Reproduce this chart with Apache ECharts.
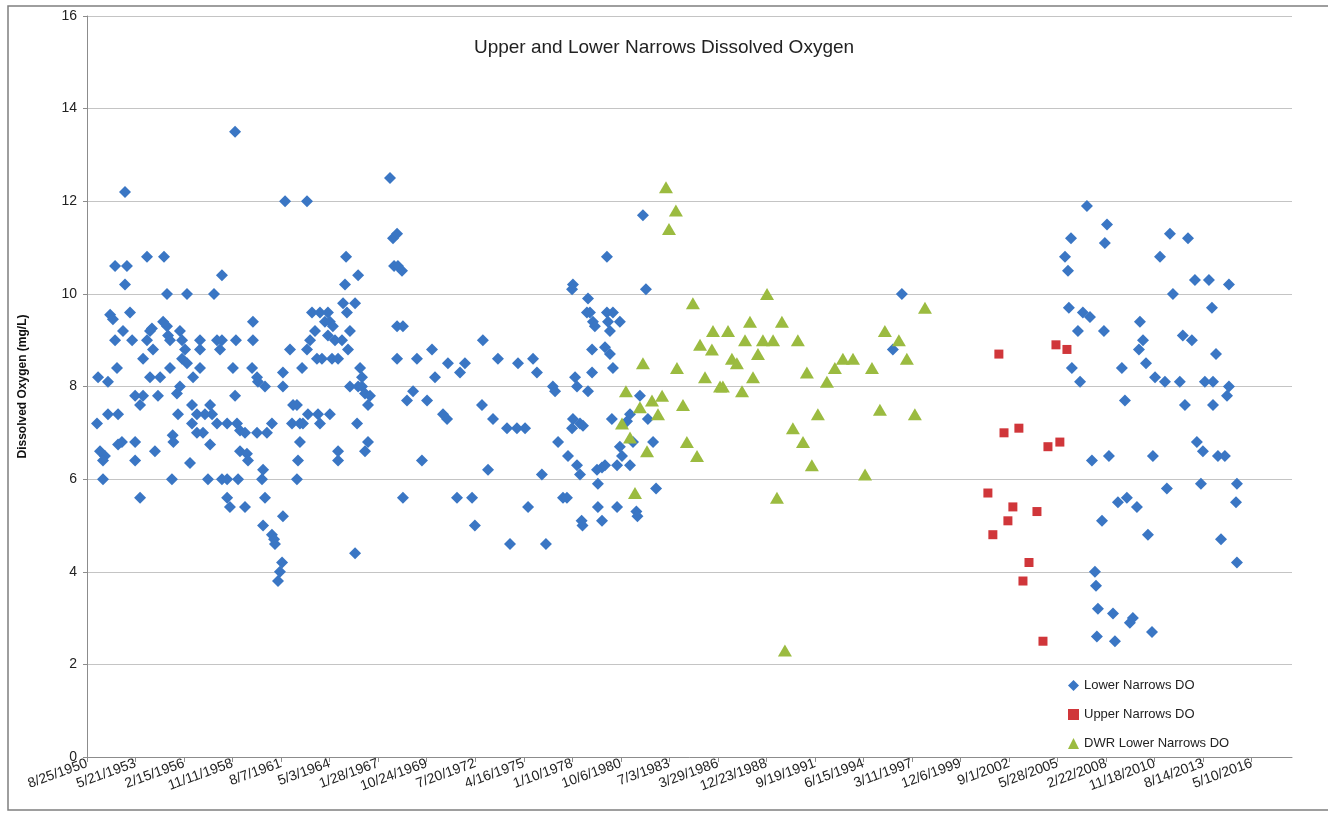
<!DOCTYPE html>
<html style="height: 100%">

<head>
    <meta charset="utf-8">
    <script src="https://cdn.jsdelivr.net/npm/echarts@6/dist/echarts.min.js"></script>
</head>

<body style="height: 100%; margin: 0; background: #fff">
    <div id="main" style="width: 1328px;height:814px;"></div>
    <script type="text/javascript">
        // points are [decimal year, dissolved oxygen mg/L]
        var lowerNarrows = [
            [1952.23, 10.6], [1952.79, 12.2], [1952.90, 10.6], [1952.79, 10.2], [1954.03, 10.8], [1954.99, 10.8],
            [1955.16, 10.0], [1956.29, 10.0], [1957.81, 10.0], [1958.26, 10.4], [1959.00, 13.5], [1961.82, 12.0],
            [1963.06, 12.0], [1965.20, 10.2], [1965.26, 10.8], [1965.94, 10.4], [1967.74, 12.5], [1967.91, 11.2],
            [1968.14, 11.3], [1967.97, 10.6], [1968.19, 10.6], [1968.42, 10.5],
            [1965.09, 9.8], [1965.77, 9.8], [1951.95, 9.55], [1952.11, 9.45], [1953.07, 9.6], [1952.68, 9.2],
            [1952.23, 9.0], [1953.19, 9.0], [1952.34, 8.4], [1951.27, 8.2], [1951.83, 8.1], [1951.21, 7.2],
            [1951.83, 7.4], [1952.40, 7.4], [1951.38, 6.6], [1951.66, 6.5], [1951.55, 6.4], [1951.55, 6.0],
            [1952.40, 6.75], [1952.62, 6.8], [1953.36, 7.8], [1953.81, 7.8], [1953.64, 7.6], [1953.36, 6.8],
            [1953.36, 6.4], [1953.64, 5.6], [1953.81, 8.6], [1954.03, 9.0], [1954.20, 9.2], [1954.31, 9.25],
            [1954.37, 8.8], [1954.20, 8.2], [1954.77, 8.2], [1954.65, 7.8], [1954.48, 6.6], [1954.94, 9.4],
            [1955.16, 9.3], [1955.22, 9.1], [1955.33, 9.0], [1955.33, 8.4], [1955.48, 6.95], [1955.52, 6.8],
            [1955.44, 6.0], [1955.72, 7.85], [1955.89, 8.0], [1955.78, 7.4], [1955.89, 9.2], [1956.01, 9.0],
            [1956.18, 8.8], [1956.01, 8.6], [1956.29, 8.5], [1956.46, 6.35], [1956.63, 8.2], [1956.57, 7.6],
            [1956.85, 7.4], [1956.57, 7.2], [1956.85, 7.0], [1957.19, 7.0], [1957.02, 9.0], [1957.02, 8.8],
            [1957.02, 8.4], [1957.59, 7.6], [1957.70, 7.4], [1957.30, 7.4], [1957.98, 7.2], [1957.59, 6.75],
            [1957.47, 6.0], [1958.26, 6.0], [1958.55, 6.0], [1959.17, 6.0], [1957.98, 9.0], [1958.26, 9.0],
            [1958.15, 8.8], [1958.88, 8.4], [1959.00, 7.8], [1958.55, 7.2], [1959.11, 7.2], [1959.28, 7.05],
            [1958.55, 5.6], [1958.71, 5.4], [1959.56, 5.4], [1959.28, 6.6], [1959.67, 6.55], [1959.73, 6.4],
            [1959.05, 9.0], [1960.01, 9.0], [1960.01, 9.4], [1959.96, 8.4], [1960.24, 8.2], [1960.29, 8.1],
            [1959.56, 7.0], [1960.24, 7.0], [1960.80, 7.0], [1961.08, 7.2], [1960.58, 6.2], [1960.52, 6.0],
            [1960.69, 5.6], [1960.69, 8.0], [1960.58, 5.0], [1961.70, 8.0], [1961.70, 8.3], [1961.70, 5.2],
            [1962.10, 8.8], [1962.27, 7.6], [1962.49, 7.6], [1962.21, 7.2], [1962.66, 7.2], [1962.83, 7.2],
            [1962.66, 6.8], [1962.55, 6.4], [1962.49, 6.0], [1962.78, 8.4], [1963.06, 8.8], [1963.23, 9.0],
            [1963.51, 9.2], [1963.34, 9.6], [1963.79, 9.6], [1964.24, 9.6], [1963.62, 8.6], [1963.90, 8.6],
            [1964.47, 8.6], [1964.81, 8.6], [1963.11, 7.4], [1963.68, 7.4], [1964.35, 7.4], [1963.79, 7.2],
            [1964.07, 9.4], [1964.35, 9.4], [1964.52, 9.3], [1964.24, 9.1], [1964.64, 9.0], [1964.81, 6.6],
            [1964.81, 6.4], [1965.03, 9.0], [1965.37, 8.8], [1965.31, 9.6], [1965.48, 9.2], [1965.48, 8.0],
            [1965.94, 8.0], [1965.88, 7.2], [1966.05, 8.4], [1966.16, 8.2], [1966.16, 8.0], [1966.33, 7.85],
            [1966.61, 7.8], [1966.50, 7.6], [1966.33, 6.6], [1966.50, 6.8], [1968.14, 9.3], [1968.47, 9.3],
            [1968.14, 8.6], [1968.47, 5.6], [1969.04, 7.9], [1968.70, 7.7], [1969.26, 8.6], [1969.54, 6.4],
            [1969.83, 7.7], [1970.11, 8.8], [1970.28, 8.2], [1970.73, 7.4], [1970.96, 7.3], [1971.01, 8.5],
            [1961.08, 4.8], [1961.25, 4.6], [1961.20, 4.7], [1961.65, 4.2], [1961.53, 4.0], [1961.42, 3.8],
            [1965.77, 4.4],
            [1982.01, 11.7], [1979.98, 10.8], [1982.18, 10.1], [1978.06, 10.2], [1978.01, 10.1], [1978.91, 9.9],
            [1979.02, 9.6], [1978.85, 9.6], [1979.19, 9.4], [1979.30, 9.3], [1979.98, 9.6], [1980.32, 9.6],
            [1980.04, 9.4], [1980.71, 9.4], [1980.15, 9.2], [1972.98, 9.0], [1971.69, 8.3], [1971.97, 8.5],
            [1973.83, 8.6], [1974.96, 8.5], [1975.81, 8.6], [1976.03, 8.3], [1979.14, 8.8], [1979.87, 8.85],
            [1980.15, 8.7], [1980.32, 8.4], [1979.14, 8.3], [1978.18, 8.2], [1978.29, 8.0], [1978.91, 7.9],
            [1976.93, 8.0], [1977.05, 7.9], [1981.84, 7.8],
            [1972.93, 7.6], [1973.55, 7.3], [1974.34, 7.1], [1974.90, 7.1], [1975.36, 7.1], [1978.06, 7.3],
            [1978.46, 7.2], [1978.01, 7.1], [1978.63, 7.15], [1980.26, 7.3], [1981.28, 7.4], [1981.11, 7.25],
            [1982.29, 7.3], [1977.22, 6.8], [1977.78, 6.5], [1978.29, 6.3], [1978.46, 6.1], [1979.42, 6.2],
            [1979.70, 6.25], [1979.87, 6.3], [1979.47, 5.9], [1980.55, 6.3], [1980.83, 6.5], [1980.71, 6.7],
            [1981.28, 6.3], [1981.45, 6.8], [1982.58, 6.8], [1973.27, 6.2], [1976.31, 6.1], [1971.52, 5.6],
            [1972.37, 5.6], [1975.53, 5.4], [1977.50, 5.6], [1977.72, 5.6], [1979.47, 5.4], [1980.55, 5.4],
            [1981.64, 5.3], [1981.70, 5.2], [1982.75, 5.8], [1972.53, 5.0], [1978.55, 5.1], [1978.60, 5.0],
            [1979.70, 5.1], [1974.51, 4.6], [1976.54, 4.6],
            [1996.11, 8.8], [1996.62, 10.0],
            [2007.06, 11.9], [2008.19, 11.5], [2006.16, 11.2], [2008.07, 11.1], [2011.74, 11.3], [2012.76, 11.2],
            [2005.82, 10.8], [2011.18, 10.8], [2005.99, 10.5], [2013.15, 10.3], [2013.94, 10.3], [2015.07, 10.2],
            [2011.91, 10.0], [2014.11, 9.7], [2006.04, 9.7], [2006.83, 9.6], [2007.23, 9.5], [2010.05, 9.4],
            [2006.55, 9.2], [2008.02, 9.2], [2012.47, 9.1], [2012.98, 9.0], [2010.22, 9.0], [2009.99, 8.8],
            [2014.34, 8.7], [2006.21, 8.4], [2009.03, 8.4], [2010.39, 8.5], [2006.67, 8.1], [2010.90, 8.2],
            [2011.46, 8.1], [2012.30, 8.1], [2013.71, 8.1], [2014.17, 8.1], [2015.07, 8.0], [2014.96, 7.8],
            [2009.20, 7.7], [2012.59, 7.6], [2014.17, 7.6], [2013.26, 6.8], [2013.60, 6.6], [2014.45, 6.5],
            [2014.84, 6.5], [2007.34, 6.4], [2008.30, 6.5], [2010.78, 6.5], [2011.57, 5.8], [2013.49, 5.9],
            [2015.52, 5.9], [2015.47, 5.5], [2008.81, 5.5], [2009.31, 5.6], [2009.88, 5.4],
            [2007.91, 5.1], [2010.50, 4.8], [2014.62, 4.7], [2015.52, 4.2], [2007.51, 4.0], [2007.57, 3.7],
            [2007.68, 3.2], [2008.53, 3.1], [2009.48, 2.9], [2009.65, 3.0], [2010.73, 2.7], [2007.62, 2.6],
            [2008.64, 2.5]
        ];

        var upperNarrows = [
            [2001.47, 5.7], [2001.75, 4.8], [2002.09, 8.7], [2002.38, 7.0], [2002.60, 5.1], [2002.88, 5.4],
            [2003.22, 7.1], [2003.45, 3.8], [2003.79, 4.2], [2004.24, 5.3], [2004.58, 2.5], [2004.86, 6.7],
            [2005.31, 8.9], [2005.53, 6.8], [2005.93, 8.8]
        ];

        var dwrLowerNarrows = [
            [1983.31, 12.3], [1983.87, 11.8], [1983.48, 11.4], [1984.83, 9.8], [1989.01, 10.0], [1988.05, 9.4],
            [1989.85, 9.4], [1985.96, 9.2], [1986.81, 9.2], [1985.23, 8.9], [1985.90, 8.8], [1987.77, 9.0],
            [1988.78, 9.0], [1989.35, 9.0], [1990.75, 9.0], [1995.66, 9.2], [1987.03, 8.6], [1987.31, 8.5],
            [1988.50, 8.7], [1993.29, 8.6], [1993.86, 8.6], [1992.84, 8.4], [1994.93, 8.4], [1991.26, 8.3],
            [1992.39, 8.1], [1983.93, 8.4], [1982.01, 8.5], [1985.51, 8.2], [1988.22, 8.2], [1986.36, 8.0],
            [1986.52, 8.0], [1987.60, 7.9], [1981.05, 7.9], [1983.09, 7.8], [1982.52, 7.7], [1981.84, 7.55],
            [1984.27, 7.6], [1982.86, 7.4], [1980.83, 7.2], [1981.28, 6.9], [1982.24, 6.6], [1984.49, 6.8],
            [1985.06, 6.5], [1981.56, 5.7], [1991.88, 7.4], [1990.47, 7.1], [1991.04, 6.8], [1991.54, 6.3],
            [1995.38, 7.5], [1994.54, 6.1], [1989.57, 5.6], [1990.02, 2.3], [1996.45, 9.0], [1996.90, 8.6],
            [1997.35, 7.4], [1997.92, 9.7]
        ];

        // excel style day numbers, ticks every 1000 days from 8/25/1950
        function toSerial(y) {
            var yr = Math.floor(y);
            var ms = Date.UTC(yr, 0, 1) + (y - yr) * 365.25 * 864e5;
            return ms / 864e5 + 25569;
        }
        function fmtDate(v) {
            var d = new Date((Math.round(v) - 25569) * 864e5);
            return (d.getUTCMonth() + 1) + '/' + d.getUTCDate() + '/' + d.getUTCFullYear();
        }
        function conv(arr) {
            return arr.map(function (p) { return [toSerial(p[0]), p[1]]; });
        }

        var font = 'Liberation Sans, Arial, sans-serif';
        var myChart = echarts.init(document.getElementById('main'));
        myChart.setOption({
            animation: false,
            backgroundColor: '#fff',
            title: {
                text: 'Upper and Lower Narrows Dissolved Oxygen',
                left: 'center',
                top: 33,
                textStyle: { fontFamily: font, fontSize: 19, fontWeight: 'normal', color: '#222' }
            },
            graphic: [{
                type: 'rect',
                shape: { x: 8, y: 6, width: 1340, height: 804 },
                style: { fill: 'none', stroke: '#7f7f7f', lineWidth: 1.5 },
                silent: true
            }],
            legend: {
                orient: 'vertical',
                left: 1063,
                top: 674,
                itemGap: 16,
                itemWidth: 11,
                itemHeight: 11,
                textStyle: { fontFamily: font, fontSize: 13, color: '#222' },
                data: ['Lower Narrows DO', 'Upper Narrows DO', 'DWR Lower Narrows DO']
            },
            grid: { left: 87, top: 16, right: 36, bottom: 57 },
            xAxis: {
                type: 'value',
                min: 18500,
                max: 43330,
                interval: 1000,
                splitLine: { show: false },
                axisLine: { lineStyle: { color: '#8c8c8c' } },
                axisTick: { length: 5, lineStyle: { color: '#8c8c8c' } },
                axisLabel: {
                    rotate: 20,
                    margin: 6,
                    showMaxLabel: false,
                    fontFamily: font,
                    fontSize: 14,
                    color: '#222',
                    formatter: fmtDate
                }
            },
            yAxis: {
                type: 'value',
                min: 0,
                max: 16,
                interval: 2,
                name: 'Dissolved Oxygen (mg/L)',
                nameLocation: 'middle',
                nameGap: 58,
                nameTextStyle: { fontFamily: font, fontSize: 12, fontWeight: 'bold', color: '#111' },
                axisLine: { show: true, lineStyle: { color: '#8c8c8c' } },
                axisTick: { show: true, length: 4, lineStyle: { color: '#8c8c8c' } },
                splitLine: { lineStyle: { color: '#c4c4c4', width: 1.2 } },
                axisLabel: { fontFamily: font, fontSize: 14, color: '#222', margin: 10 }
            },
            series: [{
                name: 'Lower Narrows DO',
                type: 'scatter',
                symbol: 'diamond',
                symbolSize: 12,
                itemStyle: { color: '#3a76c4', opacity: 1 },
                data: conv(lowerNarrows)
            }, {
                name: 'Upper Narrows DO',
                type: 'scatter',
                symbol: 'rect',
                symbolSize: 9,
                itemStyle: { color: '#d0363a', opacity: 1 },
                data: conv(upperNarrows)
            }, {
                name: 'DWR Lower Narrows DO',
                type: 'scatter',
                symbol: 'triangle',
                symbolSize: [14, 12],
                itemStyle: { color: '#9bbb40', opacity: 1 },
                data: conv(dwrLowerNarrows)
            }]
        });
    </script>
</body>

</html>
